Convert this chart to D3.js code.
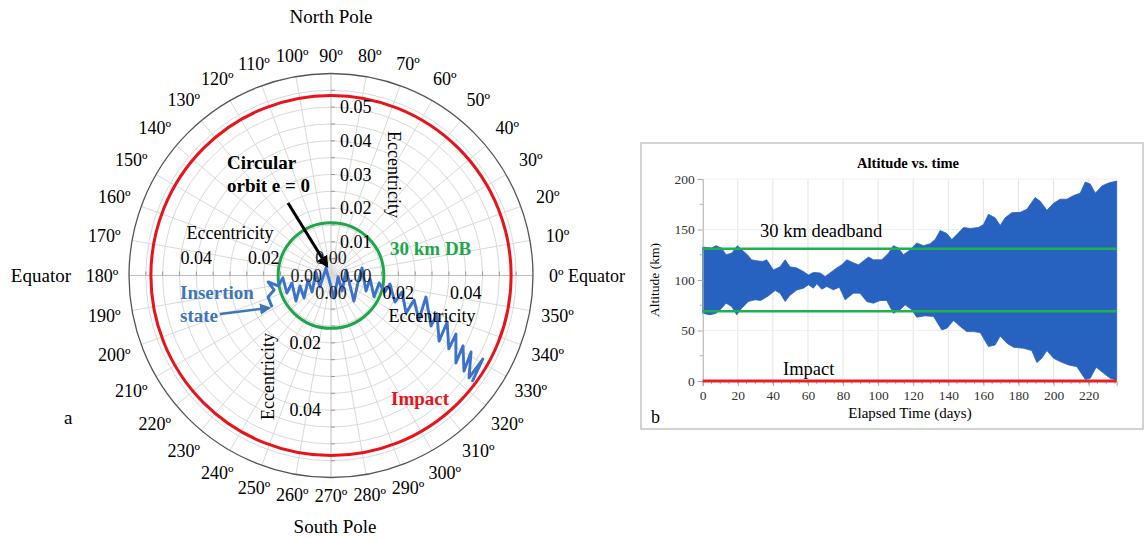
<!DOCTYPE html>
<html>
<head>
<meta charset="utf-8">
<script src="https://cdn.jsdelivr.net/npm/d3@7"></script>
<style>
body { margin: 0; background: #fff; }
text { font-family: "Liberation Serif", "Times New Roman", serif; }
</style>
</head>
<body>
<svg id="fig" width="1144" height="538"></svg>
<script>
// ---- panel a : polar plot of the eccentricity vector ----
var angleTicks = d3.range(0, 360, 10);
var eccGrid = [0.005, 0.01, 0.015, 0.02, 0.025, 0.03, 0.035, 0.04, 0.045, 0.05, 0.055];
var eccMax = 0.06;
var topAxisTicks = [0.01, 0.02, 0.03, 0.04, 0.05];
var sideAxisTicks = [0.02, 0.04];
var deadbandEcc = 0.0157;
var impactEcc = 0.0535;
// eccentricity vector components (e cos w, e sin w)
var eccX = [-0.0175, -0.0187, -0.0169, -0.0187, -0.0157, -0.0143, -0.0131, -0.0116, -0.0104, -0.0092,
            -0.0080, -0.0068, -0.0056, -0.0045, -0.0033, -0.0015, -0.0003, 0.0009, 0.0021, 0.0033,
            0.0045, 0.0056, 0.0068, 0.0080, 0.0092, 0.0104, 0.0116, 0.0128, 0.0143, 0.0160,
            0.0175, 0.0190, 0.0211, 0.0223, 0.0247, 0.0261, 0.0282, 0.0297, 0.0315, 0.0321,
            0.0345, 0.0350, 0.0371, 0.0371, 0.0392, 0.0395, 0.0416, 0.0410, 0.0451, 0.0419];
var eccY = [-0.0094, -0.0064, -0.0043, -0.0019, -0.0031, -0.0007, -0.0052, -0.0022, -0.0076, -0.0031,
            -0.0067, -0.0013, -0.0049, 0.0010, -0.0034, 0.0022, -0.0022, -0.0067, -0.0004, -0.0046,
            0.0016, -0.0028, -0.0076, -0.0022, 0.0022, -0.0046, -0.0010, -0.0064, -0.0022, -0.0049,
            -0.0025, -0.0079, -0.0049, -0.0111, -0.0073, -0.0132, -0.0064, -0.0150, -0.0114, -0.0195,
            -0.0138, -0.0218, -0.0174, -0.0260, -0.0209, -0.0284, -0.0227, -0.0304, -0.0248, -0.0316];

// ---- panel b : altitude envelope vs time ----
var upperDays = [0, 5.1, 7.6, 10.8, 13.3, 16.5, 19.8, 22.2, 25.5, 27.9, 30.8, 34.2, 36.5, 40.3, 44.1, 47, 49.8,
                 53.6, 57.4, 60.3, 63.1, 66.9, 69.8, 72.6, 76.4, 79.3, 82.1, 85.9, 88.8, 94.5, 97.3, 102.1,
                 105.9, 108.7, 111.6, 114.4, 118.3, 122, 125.9, 129.7, 132.5, 135.4, 139.2, 142, 144.9,
                 148.7, 152.5, 157.2, 160.1, 162.9, 166.7, 169.6, 172.4, 176.2, 181, 184.8, 189.5, 192.4,
                 196.2, 200, 203.8, 207.6, 211.4, 215.2, 218.1, 220.9, 223.8, 227.6, 231.3, 236];
var upperAlt = [132.6, 131.6, 134, 131.6, 125, 126.6, 134, 130, 125, 120, 119, 118.4, 120, 110, 113, 120, 113,
                112, 108.4, 105, 107.5, 107, 103.5, 107, 112, 115, 120, 117, 115, 122.7, 120, 120,
                126.6, 134, 131.6, 125, 130, 136.6, 134, 136, 140, 149, 146, 140, 145,
                152, 151, 152, 155, 165, 161.6, 154, 161.6, 166.6, 167, 170, 181.7, 178,
                169, 176, 180, 180, 183.6, 186, 197, 195, 186, 193, 196, 198];
var lowerDays = [0, 4.2, 7.6, 10.8, 13.3, 16.5, 19.4, 22.2, 26, 29.8, 33.1, 37.5, 41.3, 44.1, 47, 49.8, 53.6,
                 57.4, 60.3, 63.1, 65, 67.9, 70.7, 74.5, 77.9, 81.2, 85.9, 89.7, 93.5, 97.3, 101.1, 104.9,
                 108.7, 112.5, 115.4, 119.2, 122, 126.8, 131.6, 136.3, 139.2, 143, 146.8, 150.6, 154.4,
                 158.2, 162.9, 166.7, 169.6, 173.4, 177.2, 182.9, 187.6, 190.5, 193.3, 196.2, 200, 203.8,
                 208.6, 213.3, 218.1, 220.9, 224.3, 228.5, 232.3, 236];
var lowerAlt = [67.1, 65.5, 67, 72, 77, 73.7, 65.5, 72, 78.7, 80.4, 79.7, 84.4, 89.6, 87, 78.7, 85, 90,
                91.9, 95.2, 91.9, 96.2, 90.9, 93.6, 90.3, 92.9, 80.4, 87, 87, 78.7, 77, 79.7, 79.7,
                67, 70.5, 75.4, 70.5, 63.2, 64.5, 63.9, 50.6, 52.3, 59.9, 54, 48.9, 48.9,
                47.9, 34.1, 35.7, 44.5, 37.4, 33.4, 32.4, 30.1, 18.2, 22.5, 30.1, 22.5, 19.2,
                15.9, 14.2, 1.6, 2.6, 13.6, 7.8, 2.6, 1];
var deadbandAlt = [69, 131];
var impactAlt = 0;
var dayTicks = d3.range(0, 221, 20);
var altTicks = [0, 50, 100, 150, 200];

var svg = d3.select("#fig");
var rad = Math.PI / 180;

// ================= panel a =================
var cx = 331, cy = 275.5, R = 202;
var r = d3.scaleLinear().domain([0, eccMax]).range([0, R]);
var polar = svg.append("g").attr("transform", "translate(" + cx + "," + cy + ")");

// markers for the arrows
var defs = svg.append("defs");
defs.append("marker").attr("id", "arrBlack").attr("viewBox", "0 0 10 10").attr("refX", 8).attr("refY", 5)
  .attr("markerWidth", 4).attr("markerHeight", 4).attr("orient", "auto")
  .append("path").attr("d", "M0,0L10,5L0,10z").attr("fill", "#000");
defs.append("marker").attr("id", "arrBlue").attr("viewBox", "0 0 10 10").attr("refX", 8).attr("refY", 5)
  .attr("markerWidth", 4.5).attr("markerHeight", 4.5).attr("orient", "auto")
  .append("path").attr("d", "M0,0L10,5L0,10z").attr("fill", "#3f76bb");

// grid circles
polar.selectAll(".gcircle").data(eccGrid).enter().append("circle")
  .attr("r", function (d) { return r(d); })
  .attr("fill", "none").attr("stroke", "#d9d9d9").attr("stroke-width", 1);
// radial grid lines
polar.selectAll(".spoke").data(angleTicks).enter().append("line")
  .attr("x1", 0).attr("y1", 0)
  .attr("x2", function (d) { return R * Math.cos(d * rad); })
  .attr("y2", function (d) { return -R * Math.sin(d * rad); })
  .attr("stroke", function (d) { return d % 90 === 0 ? "#bdbdbd" : "#d9d9d9"; })
  .attr("stroke-width", 1);
// outer frame
polar.append("circle").attr("r", r(eccMax)).attr("fill", "none").attr("stroke", "#555").attr("stroke-width", 1.3);

// axis minor ticks on the four eccentricity axes
var minor = d3.range(0.005, 0.0551, 0.005);
[0, 90, 180, 270].forEach(function (a) {
  polar.selectAll(null).data(minor).enter().append("line")
    .attr("x1", function (d) { return r(d) * Math.cos(a * rad); })
    .attr("y1", function (d) { return -r(d) * Math.sin(a * rad); })
    .attr("x2", function (d) { return r(d) * Math.cos(a * rad) + (a % 180 === 0 ? 0 : 4); })
    .attr("y2", function (d) { return -r(d) * Math.sin(a * rad) + (a % 180 === 0 ? -4 : 0); })
    .attr("stroke", "#999").attr("stroke-width", 1);
});

// deadband and impact circles
polar.append("circle").attr("r", r(deadbandEcc)).attr("fill", "none").attr("stroke", "#1fa64a").attr("stroke-width", 3);
polar.append("circle").attr("r", r(impactEcc)).attr("fill", "none").attr("stroke", "#e8141b").attr("stroke-width", 3);

// trajectory of the eccentricity vector
var traj = eccX.map(function (x, i) { return { e: Math.hypot(x, eccY[i]), w: Math.atan2(eccY[i], x) }; });
var radial = d3.lineRadial()
  .angle(function (d) { return Math.PI / 2 - d.w; })
  .radius(function (d) { return r(d.e); });
polar.append("path").datum(traj).attr("d", radial)
  .attr("fill", "none").attr("stroke", "#3b72ca").attr("stroke-width", 2.9).attr("stroke-linejoin", "round");

// eccentricity tick labels
var fs = "18px";
polar.selectAll(".tTop").data(topAxisTicks).enter().append("text")
  .attr("x", 9).attr("y", function (d) { return -r(d); }).attr("dy", "0.35em")
  .style("font-size", fs).text(function (d) { return d.toFixed(2); });
polar.selectAll(".tLeft").data(sideAxisTicks).enter().append("text")
  .attr("x", function (d) { return -r(d); }).attr("y", -12).attr("text-anchor", "middle")
  .style("font-size", fs).text(function (d) { return d.toFixed(2); });
polar.selectAll(".tRight").data(sideAxisTicks).enter().append("text")
  .attr("x", function (d) { return r(d); }).attr("y", 23).attr("text-anchor", "middle")
  .style("font-size", fs).text(function (d) { return d.toFixed(2); });
polar.selectAll(".tBottom").data(sideAxisTicks).enter().append("text")
  .attr("x", -10).attr("y", function (d) { return r(d); }).attr("dy", "0.35em").attr("text-anchor", "end")
  .style("font-size", fs).text(function (d) { return d.toFixed(2); });
// the four "0.00" labels crowding the origin
[[0, -12, "middle"], [-9, 6, "end"], [9, 6, "start"], [0, 23, "middle"]].forEach(function (p) {
  polar.append("text").attr("x", p[0]).attr("y", p[1]).attr("text-anchor", p[2])
    .style("font-size", fs).attr("fill", "#222").text((0).toFixed(2));
});

// axis titles
polar.append("text").attr("transform", "translate(57," + (-r(0.03)) + ") rotate(90)")
  .attr("text-anchor", "middle").style("font-size", fs).text("Eccentricity");
polar.append("text").attr("x", -r(0.03)).attr("y", -37).attr("text-anchor", "middle")
  .style("font-size", fs).text("Eccentricity");
polar.append("text").attr("x", r(0.03)).attr("y", 46).attr("text-anchor", "middle")
  .style("font-size", fs).text("Eccentricity");
polar.append("text").attr("transform", "translate(-57," + r(0.03) + ") rotate(-90)")
  .attr("text-anchor", "middle").style("font-size", fs).text("Eccentricity");

// angle labels round the rim
polar.selectAll(".deg").data(angleTicks).enter().append("text")
  .attr("x", function (d) {
    var a = d * rad, rr = R + 10 + 17 * Math.abs(Math.cos(a)) + 8 * Math.abs(Math.sin(a));
    return d === 0 ? R + 16 : rr * Math.cos(a);
  })
  .attr("y", function (d) {
    var a = d * rad, rr = R + 10 + 17 * Math.abs(Math.cos(a)) + 8 * Math.abs(Math.sin(a));
    return -rr * Math.sin(a);
  })
  .attr("dy", "0.35em")
  .attr("text-anchor", function (d) { return d === 0 ? "start" : "middle"; })
  .style("font-size", fs)
  .text(function (d) { return d === 0 ? "0º Equator" : d + "º"; });

// annotations
svg.append("text").attr("x", cx).attr("y", 23).attr("text-anchor", "middle").style("font-size", "19px").text("North Pole");
svg.append("text").attr("x", cx + 4).attr("y", 533).attr("text-anchor", "middle").style("font-size", "19px").text("South Pole");
svg.append("text").attr("x", 71).attr("y", 282).attr("text-anchor", "end").style("font-size", "19px").text("Equator");
svg.append("text").attr("x", 64).attr("y", 424).style("font-size", "19px").text("a");

var circ = svg.append("text").attr("x", 227).attr("y", 169).style("font-size", "19px").style("font-weight", "bold");
circ.append("tspan").text("Circular");
circ.append("tspan").attr("x", 227).attr("dy", 23).text("orbit e = 0");
svg.append("line").attr("x1", 288).attr("y1", 203).attr("x2", 327).attr("y2", 266)
  .attr("stroke", "#000").attr("stroke-width", 3).attr("marker-end", "url(#arrBlack)");

svg.append("text").attr("x", 390).attr("y", 255).style("font-size", "19px").style("font-weight", "bold")
  .attr("fill", "#1fa64a").text("30 km DB");
var ins = svg.append("text").attr("x", 180).attr("y", 299).style("font-size", "19px").style("font-weight", "bold").attr("fill", "#3f76bb");
ins.append("tspan").text("Insertion");
ins.append("tspan").attr("x", 180).attr("dy", 23).text("state");
svg.append("line").attr("x1", 220).attr("y1", 314).attr("x2", 269).attr("y2", 308)
  .attr("stroke", "#3f76bb").attr("stroke-width", 2.5).attr("marker-end", "url(#arrBlue)");
svg.append("text").attr("x", 391).attr("y", 405).style("font-size", "19px").style("font-weight", "bold")
  .attr("fill", "#e8141b").text("Impact");

// ================= panel b =================
svg.append("rect").attr("x", 641).attr("y", 143).attr("width", 502).attr("height", 286)
  .attr("fill", "#fff").attr("stroke", "#c4c4c4").attr("stroke-width", 1.5);

var x = d3.scaleLinear().domain([0, 236]).range([702.7, 1116.7]);
var y = d3.scaleLinear().domain([0, 200]).range([381, 179]);
var chart = svg.append("g");

// grid
chart.selectAll(".vg").data(dayTicks.slice(1)).enter().append("line")
  .attr("x1", function (d) { return x(d); }).attr("x2", function (d) { return x(d); })
  .attr("y1", y(200)).attr("y2", y(0)).attr("stroke", "#e3e3e3");
chart.selectAll(".hg").data(altTicks.slice(1)).enter().append("line")
  .attr("x1", x(0)).attr("x2", x(236))
  .attr("y1", function (d) { return y(d); }).attr("y2", function (d) { return y(d); }).attr("stroke", "#f0f0f0");

// envelope polygon: upper edge forward, lower edge back
var env = upperDays.map(function (d, i) { return [d, upperAlt[i]]; })
  .concat(lowerDays.map(function (d, i) { return [d, lowerAlt[i]]; }).reverse());
var envLine = d3.line().x(function (d) { return x(d[0]); }).y(function (d) { return y(d[1]); });
chart.append("path").attr("d", envLine(env) + "Z").attr("fill", "#2762c1").attr("stroke", "#2762c1").attr("stroke-width", 0.8);

// axes
var yAxis = d3.axisLeft(y).tickValues(altTicks).tickSize(5).tickPadding(3);
var yg = chart.append("g").attr("transform", "translate(" + x(0) + ",0)").call(yAxis);
var xAxis = d3.axisBottom(x).tickValues(dayTicks).tickSize(5).tickPadding(4);
var xg = chart.append("g").attr("transform", "translate(0," + y(0) + ")").call(xAxis);
[yg, xg].forEach(function (g) {
  g.select(".domain").attr("stroke", "#aaa");
  g.selectAll(".tick line").attr("stroke", "#aaa");
  g.selectAll(".tick text").style("font-family", "Liberation Serif").style("font-size", "13.5px").attr("fill", "#333");
});
chart.selectAll(".ymin").data([25, 75, 125, 175]).enter().append("line")
  .attr("x1", x(0) - 3).attr("x2", x(0)).attr("y1", function (d) { return y(d); }).attr("y2", function (d) { return y(d); })
  .attr("stroke", "#aaa");
chart.selectAll(".xmin").data(d3.range(5, 236, 5)).enter().append("line")
  .attr("x1", function (d) { return x(d); }).attr("x2", function (d) { return x(d); })
  .attr("y1", y(0)).attr("y2", y(0) + 3).attr("stroke", "#aaa");

// deadband and impact lines
chart.selectAll(".db").data(deadbandAlt).enter().append("line")
  .attr("x1", x(0)).attr("x2", x(236))
  .attr("y1", function (d) { return y(d); }).attr("y2", function (d) { return y(d); })
  .attr("stroke", "#1fb04f").attr("stroke-width", 2.5);
chart.append("line").attr("x1", x(0)).attr("x2", x(236)).attr("y1", y(impactAlt)).attr("y2", y(impactAlt))
  .attr("stroke", "#ee1c24").attr("stroke-width", 3);

// labels
chart.append("text").attr("x", 908).attr("y", 168).attr("text-anchor", "middle")
  .style("font-size", "14.5px").style("font-weight", "bold").text("Altitude vs. time");
chart.append("text").attr("transform", "translate(659,280) rotate(-90)").attr("text-anchor", "middle")
  .style("font-size", "13.5px").text("Altitude (km)");
chart.append("text").attr("x", 910).attr("y", 418).attr("text-anchor", "middle")
  .style("font-size", "15px").text("Elapsed Time (days)");
chart.append("text").attr("x", 760).attr("y", 237).style("font-size", "18.5px").text("30 km deadband");
chart.append("text").attr("x", 783).attr("y", 375).style("font-size", "18.5px").text("Impact");
chart.append("text").attr("x", 651).attr("y", 423).style("font-size", "18px").text("b");
</script>
</body>
</html>
